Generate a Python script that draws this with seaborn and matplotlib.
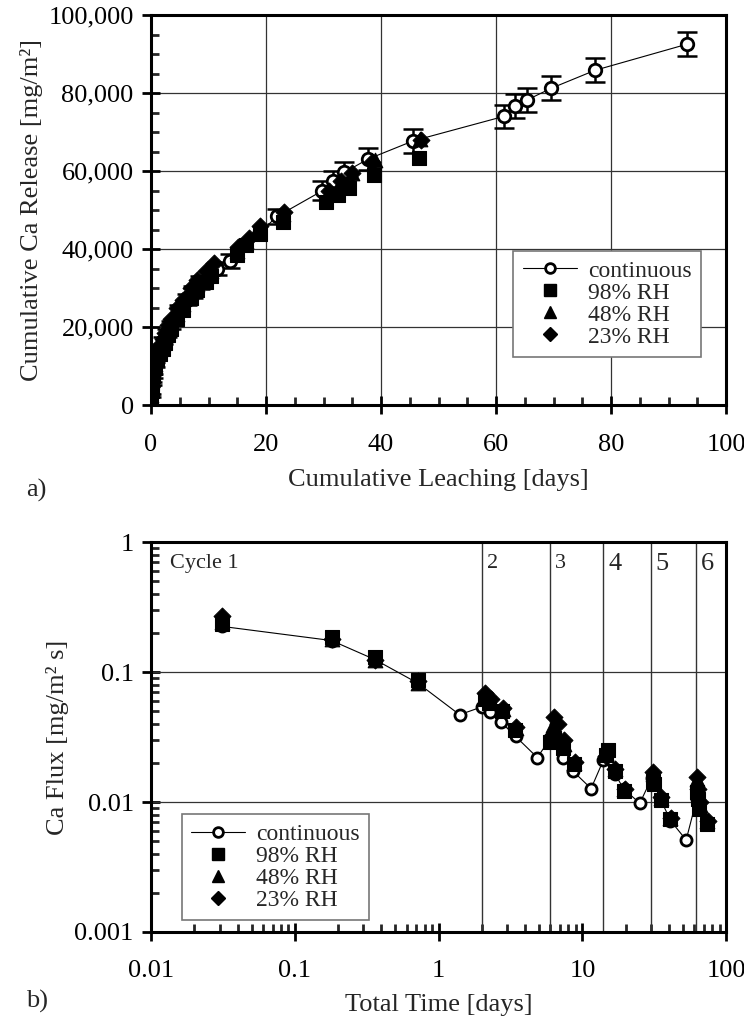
import numpy as np
import pandas as pd
import seaborn as sns
import matplotlib.pyplot as plt
from matplotlib.lines import Line2D
from matplotlib.ticker import MultipleLocator, FuncFormatter, LogLocator, NullFormatter

sns.set_style("ticks")
plt.rcParams['font.family'] = ['Liberation Serif', 'DejaVu Serif']

# ---- panel a) cumulative release ----
cont_t = [0.03, 0.19, 0.36, 0.72, 1.4, 2.1, 2.75, 3.4, 4.9, 6.2, 7.3, 8.6, 11.5, 13.7,
          21.9, 29.8, 31.6, 33.6, 37.7, 45.6, 61.4, 63.3, 65.4, 69.6, 77.2, 93.2]
cont_rel = [2500, 5500, 7500, 10500, 14000, 16500, 18500, 20500, 24500, 27000, 29000, 31500,
            35000, 37000, 48400, 55000, 57500, 59700, 63100, 67800, 74100, 76700, 78300,
            81300, 85900, 92600]
cont_err = [300, 400, 500, 600, 800, 900, 1000, 1100, 1300, 1400, 1500, 1600, 1700, 1800,
            2000, 2400, 2500, 2600, 2800, 3000, 3000, 3100, 3100, 3100, 3100, 3000]

rh98_t = [0.03, 0.1, 0.2, 0.4, 0.7, 1.0, 1.5, 2.0, 2.5, 3.0, 3.5, 4.5, 5.5, 7.0, 8.0, 9.5,
          10.5, 15.0, 16.5, 19.0, 23.0, 30.5, 32.5, 34.5, 38.8, 46.6]
rh98_rel = [2000, 3500, 5500, 7500, 9500, 11500, 13000, 14500, 16000, 18000, 19500, 22000,
            24500, 27500, 29500, 31500, 33000, 38500, 41000, 44000, 47000, 52000, 53800,
            55800, 59000, 63500]
rh48_t = [0.03, 0.1, 0.2, 0.4, 0.7, 1.0, 1.5, 2.0, 2.5, 3.0, 3.5, 4.5, 5.5, 7.0, 8.0, 9.5,
          10.5, 15.0, 16.5, 18.5, 23.0, 30.8, 32.8, 35.0, 39.0, 46.8]
rh48_rel = [2500, 4500, 6500, 8500, 10500, 12500, 14500, 16000, 17500, 19500, 21000, 23500,
            26000, 29000, 31000, 33000, 34500, 39500, 42000, 45000, 49000, 54500, 57000,
            59500, 62800, 68400]
rh23_t = [0.03, 0.1, 0.2, 0.4, 0.7, 1.0, 1.5, 2.0, 2.5, 3.0, 3.5, 4.5, 5.5, 7.0, 8.0, 9.5,
          11.0, 15.2, 17.0, 19.0, 23.2, 31.0, 33.0, 35.0, 38.5, 47.0]
rh23_rel = [3000, 5000, 7500, 9500, 12000, 13500, 15500, 17000, 18500, 20500, 22000, 25000,
            27000, 30000, 32000, 34500, 36500, 40500, 43000, 46000, 49500, 55000, 57500,
            59500, 62500, 68000]

# ---- panel b) flux ----
flux_cont_t = [0.031, 0.18, 0.36, 0.72, 1.4, 2.0, 2.28, 2.73, 3.43, 4.86, 6.0, 7.3, 8.6,
               11.5, 14.0, 16.8, 19.5, 25.1, 30.3, 35, 41, 52.7, 62.3]
flux_cont = [0.225, 0.175, 0.125, 0.082, 0.047, 0.054, 0.049, 0.041, 0.032, 0.022, 0.031,
             0.022, 0.0173, 0.0127, 0.021, 0.0165, 0.0125, 0.0098, 0.0152, 0.0105, 0.0072,
             0.0051, 0.0105]
flux98_t = [0.031, 0.18, 0.36, 0.72, 2.1, 2.25, 2.75, 3.4, 6.0, 6.3, 7.3, 8.7, 14.5, 15.0,
            16.8, 19.5, 30.8, 31.5, 35, 41, 62.5, 63.5, 65, 73.5]
flux98 = [0.235, 0.185, 0.13, 0.087, 0.062, 0.058, 0.050, 0.036, 0.029, 0.031, 0.026, 0.0195,
          0.023, 0.025, 0.0172, 0.0122, 0.0145, 0.0138, 0.0103, 0.0074, 0.012, 0.0105,
          0.0088, 0.0068]
flux48_t = [0.031, 0.18, 0.36, 0.72, 2.1, 2.3, 2.8, 3.45, 6.2, 6.5, 7.4, 8.8, 14.6, 16.9,
            19.6, 31.0, 35.2, 41, 62.6, 63.8, 65.5, 74]
flux48 = [0.245, 0.18, 0.125, 0.083, 0.066, 0.06, 0.052, 0.037, 0.039, 0.035, 0.028, 0.020,
          0.024, 0.0178, 0.0125, 0.0165, 0.0108, 0.0075, 0.015, 0.012, 0.0095, 0.0071]
flux23_t = [0.031, 0.18, 0.36, 0.72, 2.1, 2.3, 2.8, 3.45, 6.4, 6.8, 7.5, 8.9, 14.7, 17.0,
            19.8, 31.2, 35.4, 41.5, 62.8, 64, 66, 74.5]
flux23 = [0.27, 0.18, 0.125, 0.085, 0.069, 0.062, 0.053, 0.038, 0.045, 0.040, 0.030, 0.0205,
          0.0225, 0.018, 0.0125, 0.017, 0.011, 0.0076, 0.0155, 0.0125, 0.010, 0.0072]

cycle_starts = [2, 6, 14, 30, 62]
cycle_labels = ['2', '3', '4', '5', '6']

FS = 19
LFS = 17
ms = 9

fig = plt.figure(figsize=(7.44, 10.23), dpi=100)
ax1 = fig.add_axes([0.203, 0.604, 0.773, 0.381])
ax2 = fig.add_axes([0.203, 0.089, 0.773, 0.381])


def style_axes(ax):
    for s in ax.spines.values():
        s.set_linewidth(2.2)
        s.set_color('black')
    ax.tick_params(which='major', direction='inout', length=13, width=2, labelsize=FS,
                   colors='black')
    ax.tick_params(axis='x', which='major', pad=14)
    ax.tick_params(axis='y', which='major', pad=6)
    ax.tick_params(which='minor', direction='in', length=6, width=2)


# panel a
ax1.grid(True, which='major', color='#333333', lw=0.9)
ax1.errorbar(cont_t, cont_rel, yerr=cont_err, fmt='none', ecolor='black', elinewidth=1.8,
             capsize=7, capthick=1.8, zorder=3)
sns.lineplot(x=cont_t, y=cont_rel, ax=ax1, color='black', lw=0.8, marker='o', ms=ms,
             mfc='white', mec='black', mew=2, zorder=4)
sns.scatterplot(x=rh98_t, y=rh98_rel, ax=ax1, marker='s', s=95, color='black',
                edgecolor='black', zorder=5)
sns.scatterplot(x=rh48_t, y=rh48_rel, ax=ax1, marker='^', s=110, color='black',
                edgecolor='black', zorder=5)
sns.scatterplot(x=rh23_t, y=rh23_rel, ax=ax1, marker='D', s=75, color='black',
                edgecolor='black', zorder=5)
ax1.set_xlim(0, 100)
ax1.set_ylim(0, 100000)
ax1.xaxis.set_major_locator(MultipleLocator(20))
ax1.xaxis.set_minor_locator(MultipleLocator(5))
ax1.yaxis.set_major_locator(MultipleLocator(20000))
ax1.yaxis.set_minor_locator(MultipleLocator(5000))
ax1.yaxis.set_major_formatter(FuncFormatter(lambda v, p: f'{int(v):,}'))
ax1.set_xlabel('Cumulative Leaching [days]', fontsize=FS, labelpad=10)
ax1.set_ylabel('Cumulative Ca Release [mg/m²]', fontsize=FS, labelpad=4)
style_axes(ax1)

handles = [
    Line2D([], [], color='black', lw=0.8, marker='o', ms=ms - 2, mfc='white', mec='black', mew=2),
    Line2D([], [], ls='none', marker='s', ms=ms - 1, color='black'),
    Line2D([], [], ls='none', marker='^', ms=ms, color='black'),
    Line2D([], [], ls='none', marker='D', ms=ms - 2, color='black'),
]
labels = ['continuous', '98% RH', '48% RH', '23% RH']
leg_kw = dict(fontsize=LFS, frameon=True, fancybox=False, edgecolor='#777777', framealpha=1,
              labelspacing=0.02, handlelength=2.3, borderpad=0.4, handletextpad=0.45,
              borderaxespad=0)
leg1 = ax1.legend(handles, labels, loc='lower left', bbox_to_anchor=(0.63, 0.123), **leg_kw)
leg1.get_frame().set_linewidth(1.2)

# panel b
ax2.set_xscale('log')
ax2.set_yscale('log')
ax2.set_xlim(0.01, 100)
ax2.set_ylim(0.001, 1)
for y in [0.1, 0.01]:
    ax2.axhline(y, color='#333333', lw=0.9, zorder=1)
for x in cycle_starts:
    ax2.axvline(x, color='#333333', lw=1.0, zorder=1)
sns.lineplot(x=flux_cont_t, y=flux_cont, ax=ax2, color='black', lw=0.8, marker='o', ms=ms - 1,
             mfc='white', mec='black', mew=2, zorder=3)
sns.scatterplot(x=flux98_t, y=flux98, ax=ax2, marker='s', s=95, color='black',
                edgecolor='black', zorder=5)
sns.scatterplot(x=flux48_t, y=flux48, ax=ax2, marker='^', s=110, color='black',
                edgecolor='black', zorder=5)
sns.scatterplot(x=flux23_t, y=flux23, ax=ax2, marker='D', s=75, color='black',
                edgecolor='black', zorder=5)
ax2.xaxis.set_major_locator(LogLocator(base=10, numticks=10))
ax2.xaxis.set_minor_locator(LogLocator(base=10, subs=np.arange(2, 10), numticks=20))
ax2.yaxis.set_major_locator(LogLocator(base=10, numticks=10))
ax2.yaxis.set_minor_locator(LogLocator(base=10, subs=np.arange(2, 10), numticks=20))
fmt = FuncFormatter(lambda v, p: f'{v:g}')
ax2.xaxis.set_major_formatter(fmt)
ax2.yaxis.set_major_formatter(fmt)
ax2.xaxis.set_minor_formatter(NullFormatter())
ax2.yaxis.set_minor_formatter(NullFormatter())
ax2.set_xlabel('Total Time [days]', fontsize=FS, labelpad=8)
ax2.set_ylabel('Ca Flux [mg/m² s]', fontsize=FS, labelpad=4)
style_axes(ax2)

ax2.text(0.0135, 0.68, 'Cycle 1', fontsize=FS - 3, va='center', ha='left')
for x, lab in zip(cycle_starts, cycle_labels):
    ax2.text(x * 1.08, 0.68, lab, fontsize=FS - 3 if x < 10 else FS, va='center', ha='left')

leg2 = ax2.legend(handles, labels, loc='lower left', bbox_to_anchor=(0.053, 0.03), **leg_kw)
leg2.get_frame().set_linewidth(1.2)

fig.text(0.035, 0.515, 'a)', fontsize=FS)
fig.text(0.035, 0.015, 'b)', fontsize=FS)

fig.savefig('out.png', dpi=100)
